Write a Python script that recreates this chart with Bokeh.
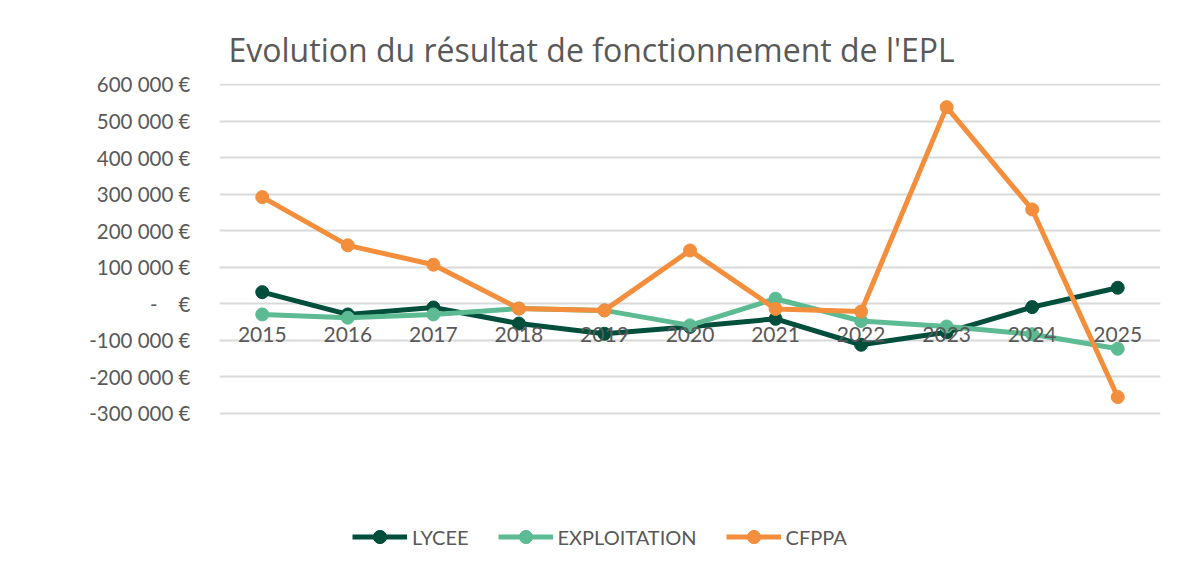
from bokeh.plotting import figure
from bokeh.models import FixedTicker, Legend, LegendItem, FactorRange, Range1d, ColumnDataSource
from bokeh.embed import file_html
from bokeh.resources import INLINE

title_text = "Evolution du résultat de fonctionnement de l'EPL"
years = ["2015", "2016", "2017", "2018", "2019", "2020", "2021", "2022", "2023", "2024", "2025"]
lycee = [32000, -29000, -10000, -54000, -82000, -63000, -41000, -112000, -78000, -9000, 44000]
exploitation = [-29000, -38000, -29000, -13000, -18000, -59000, 14000, -47000, -62000, -83000, -123000]
cfppa = [292000, 160000, 107000, -13000, -18000, 146000, -14000, -21000, 538000, 258000, -255000]
series_names = ["LYCEE", "EXPLOITATION", "CFPPA"]
series_colors = ["#004E3C", "#5DBB93", "#F28E3C"]
y_ticks = [-300000, -200000, -100000, 0, 100000, 200000, 300000, 400000, 500000, 600000]
y_tick_labels = ["-300 000 €", "-200 000 €", "-100 000 €", "-\u00a0\u00a0\u00a0\u00a0€",
                 "100 000 €", "200 000 €", "300 000 €", "400 000 €", "500 000 €", "600 000 €"]

FONT = "Lato"
TXT = "#595959"

# frame extends down to the legend area; only the listed ticks get gridlines/labels
p = figure(x_range=FactorRange(*years), y_range=Range1d(-691200, 602700),
           width=1168, height=556, output_backend="svg", toolbar_location=None,
           min_border_left=219, min_border_right=8, min_border_top=83, min_border_bottom=0,
           title=title_text)
p.outline_line_color = None
p.background_fill_color = "white"
p.border_fill_color = "white"

p.title.text_font = "Open Sans"
p.title.text_font_size = "32px"
p.title.text_font_style = "normal"
p.title.text_color = TXT
p.title.align = "left"
p.title.offset = 9
p.title.standoff = 25

p.xgrid.grid_line_color = None
p.ygrid.grid_line_color = "#D9D9D9"
p.ygrid.grid_line_width = 2
p.ygrid.ticker = FixedTicker(ticks=y_ticks)

p.yaxis.ticker = FixedTicker(ticks=y_ticks)
p.yaxis.major_label_overrides = {t: l for t, l in zip(y_ticks, y_tick_labels)}
p.yaxis.axis_line_color = None
p.yaxis.major_tick_line_color = None
p.yaxis.minor_tick_line_color = None
p.yaxis.major_label_text_font = FONT
p.yaxis.major_label_text_font_size = "20.5px"
p.yaxis.major_label_text_color = TXT
p.yaxis.major_label_standoff = 23

p.xaxis.fixed_location = 0
p.xaxis.axis_line_color = None
p.xaxis.major_tick_line_color = None
p.xaxis.minor_tick_line_color = None
p.xaxis.major_label_text_font = FONT
p.xaxis.major_label_text_font_size = "21px"
p.xaxis.major_label_text_color = TXT
p.xaxis.major_label_standoff = 17

src = ColumnDataSource(dict(x=years, LYCEE=lycee, EXPLOITATION=exploitation, CFPPA=cfppa))
items = []
for name, color in zip(series_names, series_colors):
    l = p.line("x", name, source=src, line_color=color, line_width=5)
    s = p.scatter("x", name, source=src, size=13, fill_color=color, line_color=color)
    items.append(LegendItem(label=name, renderers=[l, s]))

legend = Legend(items=items, orientation="horizontal", location=(133, 3),
                glyph_width=55, glyph_height=33, label_standoff=5, spacing=29,
                padding=0, margin=0, border_line_color=None, background_fill_alpha=0,
                label_text_font=FONT, label_text_font_size="20px", label_text_color=TXT)
p.add_layout(legend, "center")

open("out.html", "w").write(file_html(p, INLINE))
